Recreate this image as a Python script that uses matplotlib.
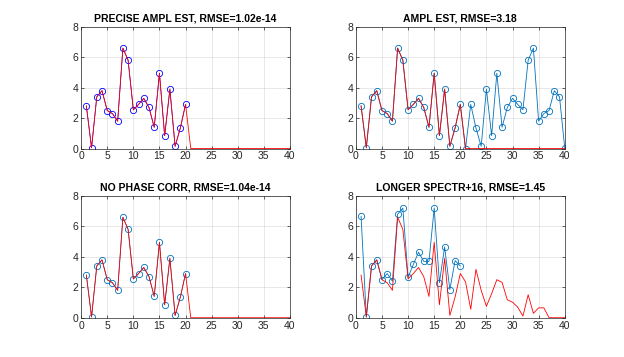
import matplotlib
matplotlib.use('Agg')
import matplotlib.pyplot as plt
import numpy as np

plt.rcParams['font.family'] = ['Liberation Sans', 'DejaVu Sans']

# true signal, samples 1..40
n_all = np.arange(1, 41)
true_vals = [2.8, 0.05, 3.4, 3.8, 2.5, 2.3, 1.8, 6.6, 5.8, 2.55,
             2.9, 3.3, 2.7, 1.4, 4.95, 0.85, 3.9, 0.15, 1.35, 2.9,
             0, 0, 0, 0, 0, 0, 0, 0, 0, 0,
             0, 0, 0, 0, 0, 0, 0, 0, 0, 0]

# estimate on 1..20 (precise / no phase corr)
n_half = np.arange(1, 21)
est_precise = true_vals[:20]

# ampl est, mirrored spectrum over 1..40
est_ampl = [2.8, 0.05, 3.4, 3.8, 2.5, 2.3, 1.8, 6.6, 5.8, 2.55,
            2.9, 3.3, 2.7, 1.4, 4.95, 0.85, 3.9, 0.15, 1.35, 2.9,
            0, 2.9, 1.35, 0.15, 3.9, 0.85, 4.95, 1.4, 2.7, 3.3,
            2.9, 2.55, 5.8, 6.6, 1.8, 2.3, 2.5, 3.8, 3.4, 0.05]

# longer spectrum case
true_long = [2.8, 0.05, 3.4, 3.8, 2.5, 2.3, 1.8, 6.6, 5.8, 2.55,
             2.9, 3.3, 2.7, 1.4, 4.95, 0.85, 3.9, 0.15, 1.35, 2.9,
             2.36, 0.56, 3.18, 1.8, 0.75, 1.58, 2.5, 2.32, 1.18, 1.02,
             0.69, 0.11, 1.51, 0.29, 0.65, 0.65, 0, 0, 0, 0]
est_long = [6.65, 0.05, 3.4, 3.8, 2.5, 2.9, 2.4, 6.8, 7.2, 2.65,
            3.5, 4.3, 3.7, 3.7, 7.2, 2.3, 4.65, 1.85, 3.75, 3.4]

titles = ['PRECISE AMPL EST, RMSE=1.02e-14', 'AMPL EST, RMSE=3.18',
          'NO PHASE CORR, RMSE=1.04e-14', 'LONGER SPECTR+16, RMSE=1.45']

mblue = (0, 0.447, 0.741)

fig = plt.figure(figsize=(6.24, 3.57), dpi=100)
positions = [[0.13, 0.5838, 0.3347, 0.3412], [0.5703, 0.5838, 0.3347, 0.3412],
             [0.13, 0.11, 0.3347, 0.3412], [0.5703, 0.11, 0.3347, 0.3412]]
axes = [fig.add_axes(p) for p in positions]

mk = dict(mfc='none', ms=4.5, mew=0.6)
axes[0].plot(n_half, est_precise, 'o-', color='b', lw=0.5, **mk)
axes[0].plot(n_all, true_vals, '-', color='r', lw=0.6)

axes[1].plot(n_all, est_ampl, 'o-', color=mblue, lw=0.6, **mk)
axes[1].plot(n_all, true_vals, '-', color='r', lw=0.6)

axes[2].plot(n_half, est_precise, 'o-', color=mblue, lw=0.5, **mk)
axes[2].plot(n_all, true_vals, '-', color='r', lw=0.6)

axes[3].plot(n_half, est_long, 'o-', color=mblue, lw=0.6, **mk)
axes[3].plot(n_all, true_long, '-', color='r', lw=0.6)

for ax, t in zip(axes, titles):
    ax.set_xlim(0, 40)
    ax.set_ylim(0, 8)
    ax.set_xticks(range(0, 41, 5))
    ax.set_yticks(range(0, 9, 2))
    ax.grid(True, color=(0.15, 0.15, 0.15), alpha=0.12, lw=0.6)
    ax.set_axisbelow(True)
    ax.tick_params(direction='in', length=2.5, width=0.5, labelsize=7.5,
                   colors=(0.15, 0.15, 0.15), top=True, right=True, pad=2)
    for s in ax.spines.values():
        s.set_color((0.15, 0.15, 0.15))
        s.set_linewidth(0.5)
    ax.set_title(t, fontsize=7.5, fontweight='bold', pad=4)

plt.savefig('out.png', dpi=100)
